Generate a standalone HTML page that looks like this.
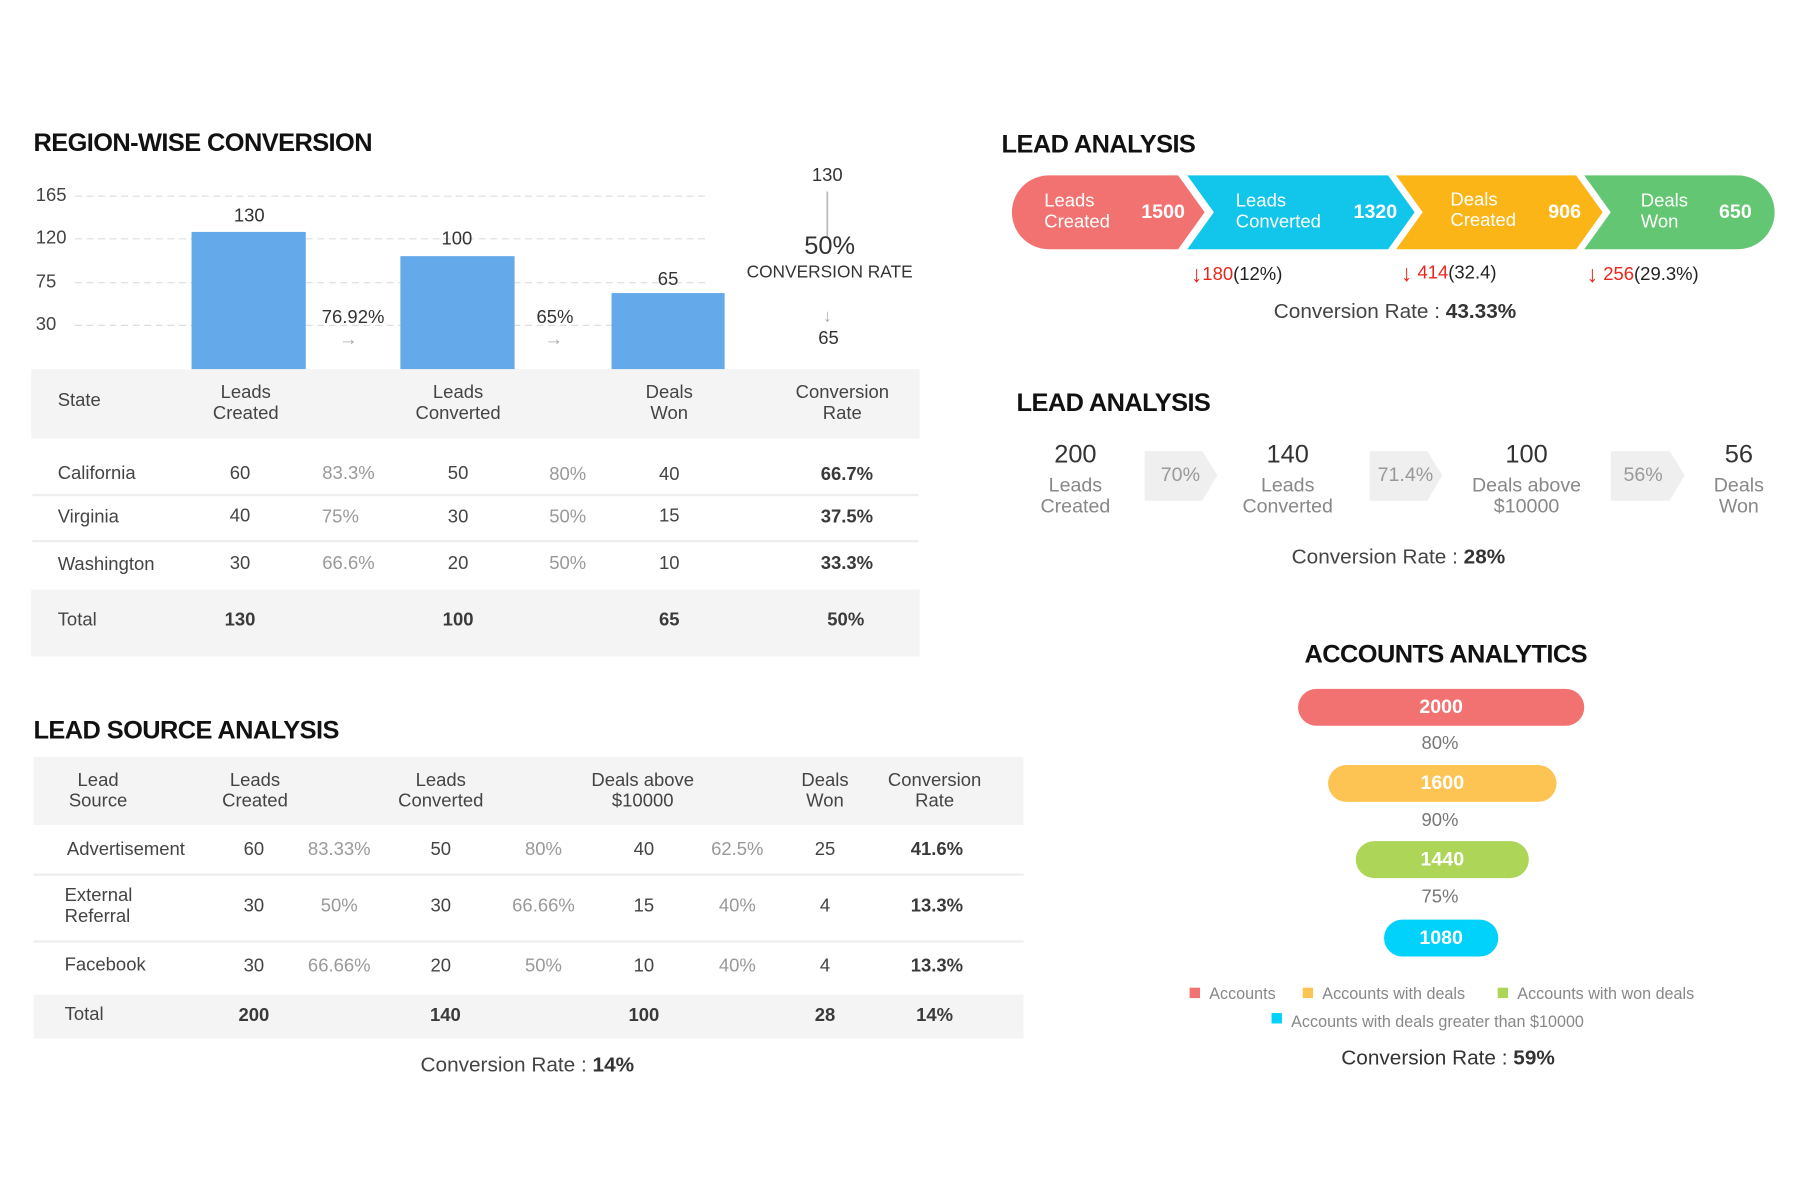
<!DOCTYPE html>
<html><head><meta charset="utf-8">
<style>
html,body{margin:0;padding:0;background:#fff;}
body{width:1800px;height:1200px;overflow:hidden;position:relative;font-family:"Liberation Sans",sans-serif;}
#w{position:absolute;left:0;top:0;width:1560px;height:1040px;transform:scale(1.153846);transform-origin:0 0;}
.a{position:absolute;white-space:nowrap;}
.c{position:absolute;white-space:nowrap;transform:translate(-50%,-50%);text-align:center;}
.l{position:absolute;white-space:nowrap;transform:translateY(-50%);}
.h{font-weight:bold;font-size:22px;color:#111;letter-spacing:-0.5px;}
.bg{position:absolute;background:#f4f4f4;}
.sep{position:absolute;height:2px;background:#eee;}
.t16{font-size:16px;color:#444;}
.g{font-size:16px;color:#999;}
.b{font-size:16px;color:#3a3a3a;font-weight:bold;}
.hd{font-size:16px;color:#444;line-height:18px;}
.ar{color:#e8261b;font-weight:bold;font-size:20px;vertical-align:-2px;}
</style></head><body><div id="w">
<svg width="1560" height="1040" style="position:absolute;left:0;top:0">
<g stroke="#ddd" stroke-dasharray="6,4" stroke-width="1">
<line x1="65" y1="170" x2="612" y2="170"/><line x1="65" y1="207" x2="612" y2="207"/>
<line x1="65" y1="245" x2="612" y2="245"/><line x1="65" y1="282" x2="612" y2="282"/>
</g>
<rect x="166" y="201" width="99" height="119" fill="#64a9ea"/>
<rect x="347" y="222" width="99" height="98" fill="#64a9ea"/>
<rect x="530" y="254" width="98" height="66" fill="#64a9ea"/>
<line x1="717" y1="166" x2="717" y2="206" stroke="#bbb" stroke-width="1.5"/>
<path d="M909,152 L1021,152 L1044,184 L1021,216 L909,216 A32,32 0 0 1 909,152Z" fill="#f27171"/>
<path d="M1029,152 L1203,152 L1226,184 L1203,216 L1029,216 L1052,184Z" fill="#12c5ea"/>
<path d="M1210,152 L1366,152 L1389,184 L1366,216 L1210,216 L1233,184Z" fill="#fbb516"/>
<path d="M1373,152 L1506,152 A32,32 0 0 1 1506,216 L1373,216 L1396,184Z" fill="#63c672"/>
<path d="M992,391 L1042,391 L1055,412 L1042,434 L992,434Z" fill="#efefef"/>
<path d="M1187,391 L1237,391 L1250,412 L1237,434 L1187,434Z" fill="#efefef"/>
<path d="M1396,391 L1447,391 L1460,412 L1447,434 L1396,434Z" fill="#efefef"/>
</svg>

<div class="a h" style="left:29px;top:111px">REGION-WISE CONVERSION</div>
<div class="l t16" style="left:31px;top:170px">165</div>
<div class="l t16" style="left:31px;top:207px">120</div>
<div class="l t16" style="left:31px;top:245px">75</div>
<div class="l t16" style="left:31px;top:282px">30</div>
<div class="c t16" style="left:216px;top:188px;color:#333">130</div>
<div class="c t16" style="left:396px;top:208px;color:#333">100</div>
<div class="c t16" style="left:579px;top:243px;color:#333">65</div>
<div class="c t16" style="left:306px;top:276px;color:#333">76.92%</div>
<div class="c" style="left:302px;top:295px;color:#aaa;font-size:16px">→</div>
<div class="c t16" style="left:481px;top:276px;color:#333">65%</div>
<div class="c" style="left:480px;top:295px;color:#aaa;font-size:16px">→</div>
<div class="c t16" style="left:717px;top:153px;color:#333">130</div>
<div class="c" style="left:719px;top:213px;font-size:22px;color:#333">50%</div>
<div class="c" style="left:719px;top:236px;font-size:15px;color:#333">CONVERSION RATE</div>
<div class="c" style="left:717px;top:274px;font-size:15px;color:#aaa">↓</div>
<div class="c t16" style="left:718px;top:294px;color:#333">65</div>

<div class="bg" style="left:27px;top:320px;width:770px;height:60px"></div>
<div class="l hd" style="left:50px;top:348px">State</div>
<div class="c hd" style="left:213px;top:350px">Leads<br>Created</div>
<div class="c hd" style="left:397px;top:350px">Leads<br>Converted</div>
<div class="c hd" style="left:580px;top:350px">Deals<br>Won</div>
<div class="c hd" style="left:730px;top:350px">Conversion<br>Rate</div>
<div class="sep" style="left:28px;top:428px;width:768px"></div>
<div class="sep" style="left:28px;top:468px;width:768px"></div>
<div class="l t16" style="left:50px;top:411px">California</div>
<div class="c t16" style="left:208px;top:411px">60</div><div class="c g" style="left:302px;top:411px">83.3%</div>
<div class="c t16" style="left:397px;top:411px">50</div><div class="c g" style="left:492px;top:412px">80%</div>
<div class="c t16" style="left:580px;top:412px">40</div><div class="c b" style="left:734px;top:412px">66.7%</div>
<div class="l t16" style="left:50px;top:449px">Virginia</div>
<div class="c t16" style="left:208px;top:448px">40</div><div class="c g" style="left:295px;top:449px">75%</div>
<div class="c t16" style="left:397px;top:449px">30</div><div class="c g" style="left:492px;top:449px">50%</div>
<div class="c t16" style="left:580px;top:448px">15</div><div class="c b" style="left:734px;top:449px">37.5%</div>
<div class="l t16" style="left:50px;top:490px">Washington</div>
<div class="c t16" style="left:208px;top:489px">30</div><div class="c g" style="left:302px;top:489px">66.6%</div>
<div class="c t16" style="left:397px;top:489px">20</div><div class="c g" style="left:492px;top:489px">50%</div>
<div class="c t16" style="left:580px;top:489px">10</div><div class="c b" style="left:734px;top:489px">33.3%</div>
<div class="bg" style="left:27px;top:511px;width:770px;height:58px"></div>
<div class="l t16" style="left:50px;top:538px">Total</div>
<div class="c b" style="left:208px;top:538px">130</div>
<div class="c b" style="left:397px;top:538px">100</div>
<div class="c b" style="left:580px;top:538px">65</div>
<div class="c b" style="left:733px;top:538px">50%</div>

<div class="a h" style="left:29px;top:620px">LEAD SOURCE ANALYSIS</div>
<div class="bg" style="left:29px;top:656px;width:858px;height:59px"></div>
<div class="c hd" style="left:85px;top:686px">Lead<br>Source</div>
<div class="c hd" style="left:221px;top:686px">Leads<br>Created</div>
<div class="c hd" style="left:382px;top:686px">Leads<br>Converted</div>
<div class="c hd" style="left:557px;top:686px">Deals above<br>$10000</div>
<div class="c hd" style="left:715px;top:686px">Deals<br>Won</div>
<div class="c hd" style="left:810px;top:686px">Conversion<br>Rate</div>
<div class="sep" style="left:29px;top:757px;width:858px"></div>
<div class="sep" style="left:29px;top:815px;width:858px"></div>
<div class="l t16" style="left:58px;top:737px">Advertisement</div>
<div class="c t16" style="left:220px;top:737px">60</div><div class="c g" style="left:294px;top:737px">83.33%</div>
<div class="c t16" style="left:382px;top:737px">50</div><div class="c g" style="left:471px;top:737px">80%</div>
<div class="c t16" style="left:558px;top:737px">40</div><div class="c g" style="left:639px;top:737px">62.5%</div>
<div class="c t16" style="left:715px;top:737px">25</div><div class="c b" style="left:812px;top:737px">41.6%</div>
<div class="l hd" style="left:56px;top:786px">External<br>Referral</div>
<div class="c t16" style="left:220px;top:786px">30</div><div class="c g" style="left:294px;top:786px">50%</div>
<div class="c t16" style="left:382px;top:786px">30</div><div class="c g" style="left:471px;top:786px">66.66%</div>
<div class="c t16" style="left:558px;top:786px">15</div><div class="c g" style="left:639px;top:786px">40%</div>
<div class="c t16" style="left:715px;top:786px">4</div><div class="c b" style="left:812px;top:786px">13.3%</div>
<div class="l t16" style="left:56px;top:837px">Facebook</div>
<div class="c t16" style="left:220px;top:838px">30</div><div class="c g" style="left:294px;top:838px">66.66%</div>
<div class="c t16" style="left:382px;top:838px">20</div><div class="c g" style="left:471px;top:838px">50%</div>
<div class="c t16" style="left:558px;top:838px">10</div><div class="c g" style="left:639px;top:838px">40%</div>
<div class="c t16" style="left:715px;top:838px">4</div><div class="c b" style="left:812px;top:838px">13.3%</div>
<div class="bg" style="left:29px;top:862px;width:858px;height:38px"></div>
<div class="l t16" style="left:56px;top:880px">Total</div>
<div class="c b" style="left:220px;top:881px">200</div>
<div class="c b" style="left:386px;top:881px">140</div>
<div class="c b" style="left:558px;top:881px">100</div>
<div class="c b" style="left:715px;top:881px">28</div>
<div class="c b" style="left:810px;top:881px">14%</div>
<div class="c" style="left:457px;top:923px;font-size:18px;color:#444">Conversion Rate : <b style="color:#333">14%</b></div>

<div class="a h" style="left:868px;top:112px">LEAD ANALYSIS</div>
<div class="l" style="left:905px;top:184px;color:#fff;font-size:16px;line-height:18px">Leads<br>Created</div>
<div class="c" style="left:1008px;top:184px;color:#fff;font-size:17px;font-weight:bold">1500</div>
<div class="l" style="left:1071px;top:184px;color:#fff;font-size:16px;line-height:18px">Leads<br>Converted</div>
<div class="c" style="left:1192px;top:184px;color:#fff;font-size:17px;font-weight:bold">1320</div>
<div class="l" style="left:1257px;top:183px;color:#fff;font-size:16px;line-height:18px">Deals<br>Created</div>
<div class="c" style="left:1356px;top:184px;color:#fff;font-size:17px;font-weight:bold">906</div>
<div class="l" style="left:1422px;top:184px;color:#fff;font-size:16px;line-height:18px">Deals<br>Won</div>
<div class="c" style="left:1504px;top:184px;color:#fff;font-size:17px;font-weight:bold">650</div>
<div class="l" style="left:1032px;top:239px;font-size:16px;color:#222"><span class="ar">↓</span><span style="color:#e8261b">180</span>(12%)</div>
<div class="l" style="left:1214px;top:238px;font-size:16px;color:#222"><span class="ar">↓</span> <span style="color:#e8261b">414</span>(32.4)</div>
<div class="l" style="left:1375px;top:239px;font-size:16px;color:#222"><span class="ar">↓</span> <span style="color:#e8261b">256</span>(29.3%)</div>
<div class="c" style="left:1209px;top:270px;font-size:18px;color:#444">Conversion Rate : <b style="color:#333">43.33%</b></div>

<div class="a h" style="left:881px;top:336px">LEAD ANALYSIS</div>
<div class="c" style="left:932px;top:394px;font-size:22px;color:#333">200</div>
<div class="c" style="left:932px;top:430px;font-size:17px;color:#888;line-height:18px">Leads<br>Created</div>
<div class="c" style="left:1023px;top:412px;font-size:17px;color:#999">70%</div>
<div class="c" style="left:1116px;top:394px;font-size:22px;color:#333">140</div>
<div class="c" style="left:1116px;top:430px;font-size:17px;color:#888;line-height:18px">Leads<br>Converted</div>
<div class="c" style="left:1218px;top:412px;font-size:17px;color:#999">71.4%</div>
<div class="c" style="left:1323px;top:394px;font-size:22px;color:#333">100</div>
<div class="c" style="left:1323px;top:430px;font-size:17px;color:#888;line-height:18px">Deals above<br>$10000</div>
<div class="c" style="left:1424px;top:412px;font-size:17px;color:#999">56%</div>
<div class="c" style="left:1507px;top:394px;font-size:22px;color:#333">56</div>
<div class="c" style="left:1507px;top:430px;font-size:17px;color:#888;line-height:18px">Deals<br>Won</div>
<div class="c" style="left:1212px;top:483px;font-size:18px;color:#444">Conversion Rate : <b style="color:#333">28%</b></div>

<div class="c h" style="left:1253px;top:567px">ACCOUNTS ANALYTICS</div>
<div class="c" style="left:1249px;top:613px;width:248px;height:32px;line-height:32px;border-radius:16px;background:#f27171;color:#fff;font-size:17px;font-weight:bold">2000</div>
<div class="c" style="left:1248px;top:645px;font-size:16px;color:#777">80%</div>
<div class="c" style="left:1250px;top:679px;width:198px;height:32px;line-height:32px;border-radius:16px;background:#fec453;color:#fff;font-size:17px;font-weight:bold">1600</div>
<div class="c" style="left:1248px;top:712px;font-size:16px;color:#777">90%</div>
<div class="c" style="left:1250px;top:745px;width:150px;height:32px;line-height:32px;border-radius:16px;background:#add558;color:#fff;font-size:17px;font-weight:bold">1440</div>
<div class="c" style="left:1248px;top:778px;font-size:16px;color:#777">75%</div>
<div class="c" style="left:1249px;top:813px;width:99px;height:32px;line-height:32px;border-radius:16px;background:#00d2fb;color:#fff;font-size:17px;font-weight:bold">1080</div>
<div class="a" style="left:1031px;top:856px;width:9px;height:9px;background:#f27171"></div>
<div class="l" style="left:1048px;top:861px;font-size:14px;color:#888">Accounts</div>
<div class="a" style="left:1129px;top:856px;width:9px;height:9px;background:#fec453"></div>
<div class="l" style="left:1146px;top:861px;font-size:14px;color:#888">Accounts with deals</div>
<div class="a" style="left:1298px;top:856px;width:9px;height:9px;background:#add558"></div>
<div class="l" style="left:1315px;top:861px;font-size:14px;color:#888">Accounts with won deals</div>
<div class="a" style="left:1102px;top:878px;width:9px;height:9px;background:#00d2fb"></div>
<div class="l" style="left:1119px;top:885px;font-size:14px;color:#888">Accounts with deals greater than $10000</div>
<div class="c" style="left:1255px;top:917px;font-size:18px;color:#333">Conversion Rate : <b>59%</b></div>
</div></body></html>
